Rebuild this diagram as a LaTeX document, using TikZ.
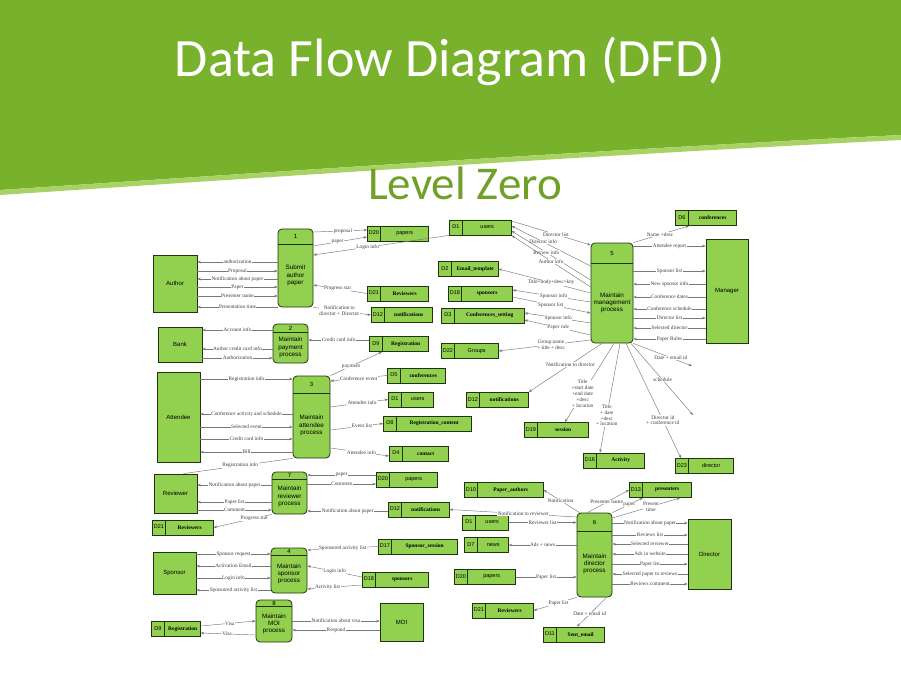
\documentclass[tikz,border=0pt]{standalone}
\usepackage{fontspec}
\setmainfont{Liberation Serif}
\setsansfont{Liberation Sans}
\newfontfamily\titlefont{Carlito}
\usetikzlibrary{arrows.meta, positioning, shapes.multipart}
\definecolor{banner}{RGB}{120,178,44}
\definecolor{bannerlight}{RGB}{168,210,100}
\definecolor{levelgreen}{RGB}{112,160,40}
\definecolor{boxfill}{RGB}{146,208,80}
\definecolor{boxline}{RGB}{32,52,16}
\definecolor{flowline}{RGB}{120,120,120}
\definecolor{flowtext}{RGB}{60,60,60}

\newcommand{\storeid}[1]{\makebox[10pt]{\strut#1}}
\newcommand{\storebf}[2]{\makebox[#1]{\rmfamily\bfseries #2}}
\newcommand{\storesf}[2]{\makebox[#1]{#2}}

\tikzset{
  entity/.style={draw=boxline, fill=boxfill, line width=0.8pt, inner sep=0pt,
    font=\sffamily\fontsize{6}{7}\selectfont},
  proc/.style={draw=boxline, fill=boxfill, line width=0.8pt, rounded corners=4pt, inner sep=0pt},
  hdr/.style={draw=boxline, line width=0.8pt},
  pnum/.style={font=\sffamily\fontsize{6}{7}\selectfont, inner sep=0pt},
  ptext/.style={font=\sffamily\fontsize{6.3}{7.3}\selectfont, align=center, inner sep=0pt},
  store/.style={rectangle split, rectangle split horizontal, rectangle split parts=2,
    draw=boxline, fill=boxfill, line width=0.8pt, inner xsep=1.5pt, inner ysep=4.5pt,
    anchor=west, font=\sffamily\fontsize{5.5}{6}\selectfont},
  flow/.style={draw=flowline, line width=0.45pt, -{Stealth[length=3.5pt,width=2.6pt]}},
  lbl/.style={font=\fontsize{5.3}{5.8}\selectfont, text=flowtext, fill=white,
    inner sep=0.5pt, align=center},
}

\begin{document}
\begin{tikzpicture}[x=1pt, y=-1pt, font=\footnotesize]
  \useasboundingbox (0,0) rectangle (901,676);

  % banner
  \fill[banner] (0,0) -- (901,0) -- (901,135) .. controls (600,150) and (300,170) .. (0,190) -- cycle;
  \fill[bannerlight] (901,135) .. controls (600,150) and (300,170) .. (0,190)
    -- (0,195) .. controls (300,175) and (600,155) .. (901,140) -- cycle;
  \node[font=\titlefont\fontsize{54}{60}\selectfont, text=white, anchor=base] (title) at (450,77) {Data Flow Diagram (DFD)};
  \node[font=\titlefont\fontsize{47}{52}\selectfont, text=levelgreen, anchor=base] (level) at (465,200) {Level Zero};

  % external entities
  \node[entity, minimum width=44pt, minimum height=57pt] (au) at (175,283.5) {Author};
  \node[entity, minimum width=44pt, minimum height=35pt] (bk) at (180,344.5) {Bank};
  \node[entity, minimum width=43pt, minimum height=90pt] (att) at (178.5,417) {Attendee};
  \node[entity, minimum width=43pt, minimum height=39pt] (rv) at (175.5,493.5) {Reviewer};
  \node[entity, minimum width=43pt, minimum height=42pt] (sp) at (174.5,573) {Sponsor};
  \node[entity, minimum width=43pt, minimum height=38pt] (moi) at (401.5,622) {MOI};
  \node[entity, minimum width=42pt, minimum height=104pt] (mg) at (727,291) {Manager};
  \node[entity, minimum width=43pt, minimum height=70pt] (dir) at (709.5,554) {Director};

  % processes
  \foreach \nm/\x/\y/\w/\h/\hy/\ny/\num/\txt in {
      p1/295.5/268/35/78/244/236.5/1/{Submit\\author\\paper},
      p2/290.5/343.5/35/39/332/328/2/{Maintain\\payment\\process},
      p3/311.5/417/37/82/393/384.5/3/{Maintain\\attendee\\process},
      p4/289/570.5/36/45/555/551.5/4/{Maintain\\sponsor\\process},
      p5/612/293/42/100/263/253/5/{Maintain\\management\\process},
      p6/594.5/555/35/84/531/522/6/{Maintain\\director\\process},
      p7/289.5/493/35/42/479/475.5/7/{Maintain\\reviewer\\process},
      p8/274/621/36/42/606/603/8/{Maintain\\MOI\\process}}
  {
    \node[proc, minimum width=\w pt, minimum height=\h pt] (\nm) at (\x,\y) {};
    \draw[hdr] (\nm.west |- 0,\hy) -- (\nm.east |- 0,\hy);
    \node[pnum] (\nm n) at (\x,\ny) {\num};
    \node[ptext] (\nm t) at (\x,{(\hy+\y+\h/2)/2}) {\txt};
  }

  % data stores
  \foreach \nm/\x/\y/\id/\w/\txt in {
      d20a/367/233.5/D20/44/papers, d1a/449/227.5/D1/45/users, d22/441/351/D22/40/Groups,
      d1b/388/399.5/D1/28/users, d23/675/466/D23/41/director, d20b/376/479.5/D20/44/papers,
      d1c/462/522.5/D1/29/users, d7/464/545/D7/27/news, d20c/454/577/D20/44/papers}
    \node[store] (\nm) at (\x,\y) {\storeid{\id}\nodepart{two}\storesf{\w pt}{\txt}};
  \foreach \nm/\x/\y/\id/\w/\txt in {
      d2/438/269/D2/43/Email\_template, d18a/448/293.5/D18/47/sponsors,
      d3/441/315.5/D3/66/Conferences\_setting, d21a/367/293.5/D21/44/Reviewers,
      d12a/371/315/D12/44/notifications, d9a/369/344/D9/42/Registration,
      d5/387/375.5/D5/41/conferences, d8/383/423.5/D8/71/Registration\_content,
      d4/389/453.5/D4/42/contact, d12b/466/400/D12/45/notifications,
      d19/524/430/D19/47/session, d16/583/460.5/D16/44/Activity,
      d6/675/218/D6/44/conferences, d21b/152/527.5/D21/44/Reviewers,
      d12c/388/509.5/D12/44/notifications, d10/464/490/D10/62/Paper\_authors,
      d13/629/490/D13/45/presenters, d17/378/546.5/D17/62/Sponsor\_session,
      d18b/362/579.5/D18/49/sponsors, d9b/151/629/D9/32/Registration,
      d21c/472/610.5/D21/44/Reviewers, d11/543/634.5/D11/44/Sent\_email}
    \node[store] (\nm) at (\x,\y) {\storeid{\id}\nodepart{two}\storebf{\w pt}{\txt}};

  % free ends
  \coordinate (schedend) at (693,415);
  \coordinate (mailend) at (692,366);

  % Author <-> 1
  \foreach \y/\txt in {262/authorization, 279/{Notification about paper}, 307/{Presentation time}}
    \draw[flow] (p1.west |- 0,\y) -- node[lbl]{\txt} (au.east |- 0,\y);
  \foreach \y/\txt in {271/Proposal, 287/Paper, 296/{Presenter name}}
    \draw[flow] (au.east |- 0,\y) -- node[lbl]{\txt} (p1.west |- 0,\y);
  \draw[flow] (p1.east |- 0,232) -- node[lbl, pos=0.55]{proposal} (d20a.west |- 0,230);
  \draw[flow] (p1.east |- 0,246) -- node[lbl, pos=0.45]{paper} (d20a.west |- 0,237);
  \draw[flow] (d1a.south west) -- node[lbl, pos=0.6]{Login info} (p1.east |- 0,255);
  \draw[flow] (d21a.west) -- node[lbl, pos=0.55]{Progress stat} (p1.east |- 0,285);
  \draw[flow] (p1.south east) -- node[lbl, pos=0.45]{Notification to\\director + Director} (d12a.west);

  % Bank <-> 2
  \foreach \y/\txt in {330/{Account info}, 349/{Author credit card info}}
    \draw[flow] (p2.west |- 0,\y) -- node[lbl]{\txt} (bk.east |- 0,\y);
  \draw[flow] (bk.east |- 0,358) -- node[lbl]{Authorization} (p2.west |- 0,358);
  \draw[flow] (d9a.west |- 0,340) -- node[lbl]{Credit card info} (p2.east |- 0,340);

  % Attendee <-> 3
  \foreach \y/\txt in {379/{Registration info}, 427/{Selected event}, 439/{Credit card info}}
    \draw[flow] (att.east |- 0,\y) -- node[lbl]{\txt} (p3.west |- 0,\y);
  \foreach \y/\txt in {414/{Conference activity and schedule}, 452/Bill}
    \draw[flow] (p3.west |- 0,\y) -- node[lbl]{\txt} (att.east |- 0,\y);
  \draw[flow] (p3.north east) -- node[lbl, pos=0.4]{payment} ([xshift=13pt]d9a.south west);
  \draw[flow] (d5.west) -- node[lbl]{Conference event} (p3.east |- 0,381);
  \draw[flow] (p3.east |- 0,407) -- node[lbl, pos=0.55]{Attendee info} (d1b.west);
  \draw[flow] (p3.east |- 0,430) -- node[lbl, pos=0.6]{Event list} (d8.west);
  \draw[flow] (p3.east |- 0,448) -- node[lbl, pos=0.53]{Attendee info} (d4.west |- 0,456);
  \draw[flow, -] (p3.south west) -- node[lbl, pos=0.48]{Registration info} ([xshift=-14pt]rv.north east);

  % Reviewer <-> 7
  \foreach \y/\txt in {485/{Notification about paper}, 502/{Paper list}}
    \draw[flow] (p7.west |- 0,\y) -- node[lbl]{\txt} (rv.east |- 0,\y);
  \draw[flow] (rv.east |- 0,510) -- node[lbl]{Comment} (p7.west |- 0,510);
  \draw[flow] (p7.south west) -- node[lbl, pos=0.3]{Progress stat} (d21b.east);
  \draw[flow] (d20b.west |- 0,475) -- node[lbl]{paper} (p7.east |- 0,475);
  \draw[flow] (p7.east |- 0,484) -- node[lbl]{Comment} (d20b.west |- 0,484);
  \draw[flow] (d12c.west |- 0,511) -- node[lbl]{Notification about paper} (p7.east |- 0,511);

  % Manager <-> 5
  \foreach \y/\txt in {246/{Attendee report}, 271/{Sponsor list}, 318/{Director list}}
    \draw[flow] (p5.east |- 0,\y) -- node[lbl]{\txt} (mg.west |- 0,\y);
  \foreach \y/\txt in {284/{New sponsor info}, 297/{Conference dates}, 309/{Conference schedule},
      328/{Selected director}, 339/{Paper Rules}}
    \draw[flow] (mg.west |- 0,\y) -- node[lbl]{\txt} (p5.east |- 0,\y);
  \draw[flow] (p5.north east) -- node[lbl, pos=0.48]{Name +desc} ([xshift=14pt]d6.south west);

  % 5 <-> stores
  \draw[flow] (d1a.east |- 0,221) -- node[lbl, pos=0.56]{Director list} (p5.west |- 0,245);
  \draw[flow] (p5.west |- 0,266) -- node[lbl, pos=0.6]{Director info} (d1a.east |- 0,226);
  \draw[flow] (p5.west |- 0,280) -- node[lbl, pos=0.56]{Review info} (d1a.east |- 0,231);
  \draw[flow] (p5.west |- 0,287) -- node[lbl, pos=0.5]{Author info} (d1a.south east);
  \draw[flow] (p5.west |- 0,293) -- node[lbl, pos=0.43]{Title+body+desc+key} (d2.east);
  \draw[flow] (p5.west |- 0,302) -- node[lbl, pos=0.475]{Sponsor info} (d18a.east |- 0,290);
  \draw[flow] (d18a.east |- 0,297) -- node[lbl, pos=0.49]{Sponsor list} (p5.west |- 0,313);
  \draw[flow] (p5.west |- 0,323) -- node[lbl, pos=0.49]{Sponsor info} (d3.east |- 0,313);
  \draw[flow] (p5.west |- 0,335) -- node[lbl, pos=0.49]{Paper rule} (d3.east |- 0,320);
  \draw[flow] (p5.west |- 0,340) -- node[lbl, pos=0.43]{Group name\\+ title + desc} (d22.east);
  \draw[flow] ([xshift=-10pt]p5.south) -- node[lbl, pos=0.43]{Notification to director} (d12b.north east);
  \draw[flow] ([xshift=2pt]p5.south) -- node[lbl, pos=0.64]{Title\\+start date\\+end date\\+desc\\+ location} ([xshift=41pt]d19.north west);
  \draw[flow] ([xshift=8pt]p5.south) -- node[lbl, pos=0.66]{Title\\+ date\\+desc\\+ location} ([xshift=17pt]d16.north west);
  \draw[flow] ([xshift=14pt]p5.south) -- node[lbl, pos=0.67]{Director id\\+ conference id} ([xshift=6pt]d23.north west);
  \draw[flow] ([xshift=19pt]p5.south) -- node[lbl, pos=0.51]{schedule} (schedend);
  \draw[flow] (p5.south east) -- node[lbl, pos=0.64]{Date + email id} (mailend);

  % 6 <-> stores
  \draw[flow] (p6.west |- 0,517) -- node[lbl, pos=0.42]{Notification to reviewer} (d12c.east);
  \draw[flow] ([xshift=3pt]p6.north west) -- node[lbl, pos=0.53]{Notification} (d10.east);
  \draw[flow] ([xshift=11pt]p6.north west) -- node[lbl, pos=0.46]{Presenter name} (d13.west);
  \draw[flow] (p6.north east) -- node[lbl, pos=0.55]{paper} ([xshift=14pt]d13.south west);
  \draw[flow] (p6.east |- 0,518) -- node[lbl, pos=0.57]{Present\\time} ([xshift=51pt]d13.south west);
  \draw[flow] (d1c.east) -- node[lbl]{Reviewer list} (p6.west |- d1c.east);
  \draw[flow] (p6.west |- d7.east) -- node[lbl]{Ads + news} (d7.east);
  \draw[flow] (d20c.east) -- node[lbl]{Paper list} (p6.west |- d20c.east);
  \draw[flow] (p6.south west) -- node[lbl, pos=0.42]{Paper list} (d21c.east);
  \draw[flow] ([xshift=12pt]p6.south) -- node[lbl, pos=0.57]{Date + email id} ([xshift=34pt]d11.north west);

  % Director <-> 6
  \foreach \y/\txt in {523/{Notification about paper}, 535/{Reviews list}, 564/{Paper list}, 584/{Reviews comment}}
    \draw[flow] (p6.east |- 0,\y) -- node[lbl]{\txt} (dir.west |- 0,\y);
  \foreach \y/\txt in {544/{Selected reviewer}, 554/{Ads in website}, 574/{Selected paper to reviews}}
    \draw[flow] (dir.west |- 0,\y) -- node[lbl]{\txt} (p6.east |- 0,\y);

  % Sponsor <-> 4
  \foreach \y/\txt in {554/{Sponsor request}, 578/{Login info}}
    \draw[flow] (sp.east |- 0,\y) -- node[lbl]{\txt} (p4.west |- 0,\y);
  \foreach \y/\txt in {566/{Activation Email}, 590/{Sponsored activity list}}
    \draw[flow] (p4.west |- 0,\y) -- node[lbl]{\txt} (sp.east |- 0,\y);
  \draw[flow] (d17.west) -- node[lbl]{Sponsored activity list} (p4.east |- 0,550);
  \draw[flow] (d18b.west |- 0,577) -- node[lbl]{Login info} (p4.east |- 0,566);
  \draw[flow] (d18b.west |- 0,585) -- node[lbl, pos=0.63]{Activity list} (p4.east |- 0,589);

  % MOI <-> 8
  \draw[flow] (d9b.east |- 0,626) -- node[lbl, pos=0.53]{Visa} (p8.west |- 0,621);
  \draw[flow] (p8.west |- 0,635) -- node[lbl, pos=0.52]{Visa} (d9b.east |- 0,633);
  \draw[flow] (p8.east |- 0,621) -- node[lbl]{Notification about visa} (moi.west |- 0,621);
  \draw[flow] (moi.west |- 0,630) -- node[lbl]{Respond} (p8.east |- 0,630);
\end{tikzpicture}
\end{document}
